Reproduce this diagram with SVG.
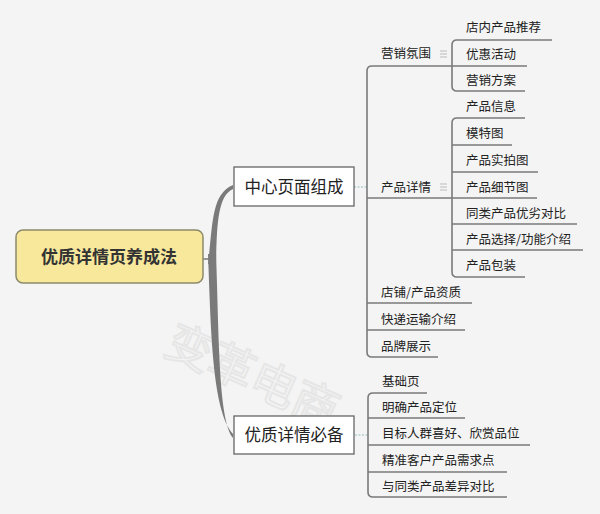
<svg xmlns="http://www.w3.org/2000/svg" width="600" height="514" viewBox="0 0 600 514">
<style>
.leaf{font-family:"Noto Sans CJK SC","Noto Sans",sans-serif;font-size:12.5px;fill:#222}
.mid{font-family:"Noto Sans CJK SC","Noto Sans",sans-serif;font-size:16.5px;fill:#222}
.ul{stroke:#7a7a7a;stroke-width:1.6;fill:none}
.dash{stroke:#9bb;stroke-width:1.2;stroke-dasharray:2 1.5;fill:none}
.box{fill:#fff;stroke:#666;stroke-width:1.3}
.ico{stroke:#bbb;stroke-width:1}
</style>
<rect width="600" height="514" fill="#f4f4f4"/>
<text x="252" y="392" transform="rotate(24 252 378)" text-anchor="middle" font-family="Noto Sans CJK SC,sans-serif" font-size="46" fill="none" stroke="#e6e6e6" stroke-width="2">变革电商</text>
<g id="connectors">
<path d="M203,259 L211,259" stroke="#777" stroke-width="1.5"/>
<path d="M208,264 C213,225 211,194 233,185 L233,189 C217,196 217,228 216,264 Z" fill="#7a7a7a"/>
<path d="M208,254 C211,330 212,410 233,434 L233,438 C218,420 219,330 216,254 Z" fill="#7a7a7a"/>
<path class="dash" d="M354,187 L368,187"/>
<path class="dash" d="M355,435 L368,435"/>
<path class="ul" d="M452,66 L372,66 Q367,66 367,71 L367,352 Q367,357 372,357 L438,357"/>
<path class="ul" d="M367,198 L537,198"/>
<path class="ul" d="M367,303 L472,303"/>
<path class="ul" d="M367,330 L465,330"/>
<path class="ul" d="M552,40 L457,40 Q452,40 452,45 L452,86 Q452,91 457,91 L525,91"/>
<path class="ul" d="M452,66 L527,66"/>
<path class="ul" d="M525,118 L457,118 Q452,118 452,123 L452,272 Q452,277 457,277 L525,277"/>
<path class="ul" d="M452,145 L512,145"/>
<path class="ul" d="M452,172 L538,172"/>
<path class="ul" d="M452,224 L577,224"/>
<path class="ul" d="M452,250 L583,250"/>
<path class="ul" d="M427,393 L373,393 Q368,393 368,398 L368,492 Q368,497 373,497 L507,497"/>
<path class="ul" d="M368,418 L465,418"/>
<path class="ul" d="M368,445 L530,445"/>
<path class="ul" d="M368,472 L507,472"/>
<path class="ico" d="M440,51 L447,51 M440,54 L447,54 M440,57 L447,57"/>
<path class="ico" d="M440,184 L447,184 M440,187 L447,187 M440,190 L447,190"/>
</g>
<g id="root">
<rect x="16" y="230" width="187" height="53" rx="7" fill="#f8e89c" stroke="#8c8a6a" stroke-width="1.5"/>
<text x="109" y="263" text-anchor="middle" font-family="Noto Sans CJK SC,sans-serif" font-size="17" font-weight="bold" fill="#333">优质详情页养成法</text>
</g>
<g id="center">
<rect class="box" x="234" y="167" width="120" height="39"/>
<text class="mid" x="294" y="193" text-anchor="middle">中心页面组成</text>
</g>
<g id="must">
<rect class="box" x="234" y="416" width="120" height="38"/>
<text class="mid" x="294" y="441" text-anchor="middle">优质详情必备</text>
</g>
<g id="n-yingxiao"><text class="leaf" x="381" y="58">营销氛围</text></g>
<g id="n-dianneichanpin"><text class="leaf" x="466" y="32">店内产品推荐</text></g>
<g id="n-youhui"><text class="leaf" x="466" y="59">优惠活动</text></g>
<g id="n-yingxiaofangan"><text class="leaf" x="466" y="85">营销方案</text></g>
<g id="n-chanpinxiangqing"><text class="leaf" x="381" y="192">产品详情</text></g>
<g id="n-xinxi"><text class="leaf" x="466" y="111">产品信息</text></g>
<g id="n-mote"><text class="leaf" x="466" y="138">模特图</text></g>
<g id="n-shipai"><text class="leaf" x="466" y="165">产品实拍图</text></g>
<g id="n-xijie"><text class="leaf" x="466" y="192">产品细节图</text></g>
<g id="n-tonglei"><text class="leaf" x="466" y="218">同类产品优劣对比</text></g>
<g id="n-xuanze"><text class="leaf" x="466" y="244">产品选择/功能介绍</text></g>
<g id="n-baozhuang"><text class="leaf" x="466" y="270">产品包装</text></g>
<g id="n-zizhi"><text class="leaf" x="381" y="297">店铺/产品资质</text></g>
<g id="n-kuaidi"><text class="leaf" x="381" y="324">快递运输介绍</text></g>
<g id="n-pinpai"><text class="leaf" x="381" y="351">品牌展示</text></g>
<g id="n-jichu"><text class="leaf" x="382" y="386">基础页</text></g>
<g id="n-dingwei"><text class="leaf" x="382" y="412">明确产品定位</text></g>
<g id="n-renqun"><text class="leaf" x="382" y="438">目标人群喜好、欣赏品位</text></g>
<g id="n-xuqiu"><text class="leaf" x="382" y="465">精准客户产品需求点</text></g>
<g id="n-chayi"><text class="leaf" x="382" y="491">与同类产品差异对比</text></g>
</svg>
